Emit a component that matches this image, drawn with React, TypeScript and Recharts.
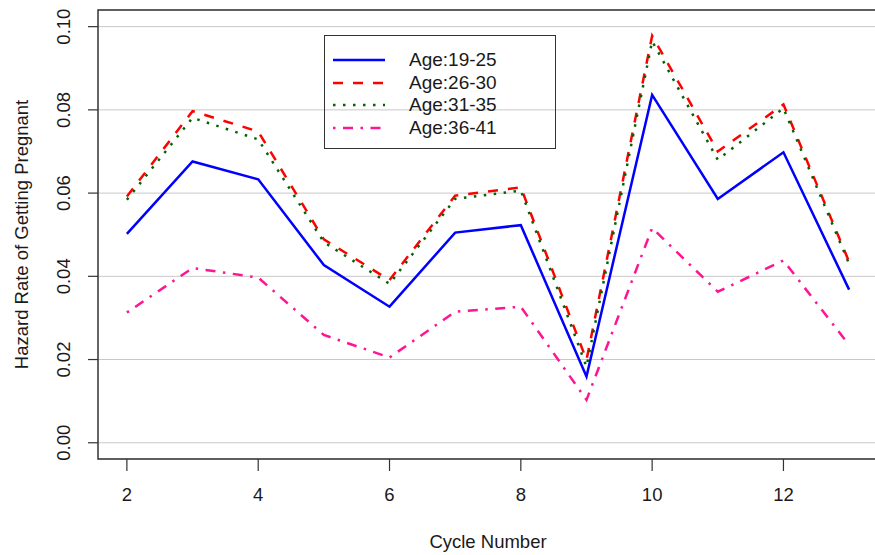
import { CartesianGrid, Label, Legend, Line, LineChart, ReferenceArea, XAxis, YAxis } from "recharts";

const cycles = [2, 3, 4, 5, 6, 7, 8, 9, 10, 11, 12, 13];
const age19to25 = [0.0502, 0.0676, 0.0633, 0.0427, 0.0327, 0.0505, 0.0523, 0.0159, 0.0836, 0.0586, 0.0698, 0.0368];
const age26to30 = [0.0592, 0.0797, 0.0748, 0.0489, 0.0391, 0.0594, 0.0614, 0.0199, 0.0978, 0.07, 0.0813, 0.0435];
const age31to35 = [0.0584, 0.0781, 0.0729, 0.0482, 0.0382, 0.0586, 0.0606, 0.0183, 0.0965, 0.068, 0.0804, 0.043];
const age36to41 = [0.0313, 0.042, 0.0397, 0.0259, 0.0205, 0.0315, 0.0327, 0.0103, 0.0516, 0.0363, 0.0438, 0.0235];

const xTicks = [2, 4, 6, 8, 10, 12];
const yTicks = [0, 0.02, 0.04, 0.06, 0.08, 0.1];

// R-style padded ranges
const X_MIN = 1.56;
const X_MAX = 13.44;
const Y_MIN = -0.0039;
const Y_MAX = 0.104;

const FONT = '"Liberation Sans", Arial, sans-serif';
const INK = "#1a1a1a";

const series = [
  { key: "a", name: "Age:19-25", color: "#0000ff", dash: undefined as string | undefined },
  { key: "b", name: "Age:26-30", color: "#ff0000", dash: "10 10" },
  { key: "c", name: "Age:31-35", color: "#006400", dash: "2.5 7.5" },
  { key: "d", name: "Age:36-41", color: "#ff1493", dash: "2.5 7.5 10 7.5" },
];

const data = cycles.map((c, i) => ({
  cycle: c,
  a: age19to25[i],
  b: age26to30[i],
  c: age31to35[i],
  d: age36to41[i],
}));

function XTick({ x, y, payload }: any) {
  return (
    <text x={x} y={y} dy={30} textAnchor="middle" fontSize={18.5} fontFamily={FONT} fill={INK}>
      {payload.value}
    </text>
  );
}

function YTick({ x, y, payload }: any) {
  const cx = x - 24;
  return (
    <text
      x={cx}
      y={y}
      textAnchor="middle"
      dominantBaseline="central"
      transform={`rotate(-90, ${cx}, ${y})`}
      fontSize={18.5}
      fontFamily={FONT}
      fill={INK}
    >
      {Number(payload.value).toFixed(2)}
    </text>
  );
}

function YTitle({ viewBox }: any) {
  const cx = viewBox.x + 21;
  const cy = viewBox.y + viewBox.height / 2;
  return (
    <text
      x={cx}
      y={cy}
      textAnchor="middle"
      dominantBaseline="central"
      transform={`rotate(-90, ${cx}, ${cy})`}
      fontSize={18.5}
      fontFamily={FONT}
      fill={INK}
    >
      Hazard Rate of Getting Pregnant
    </text>
  );
}

function LegendBox() {
  return (
    <div
      style={{
        position: "relative",
        width: 230,
        height: 112,
        border: "1.5px solid #333",
        fontFamily: FONT,
        fontSize: 19,
        color: INK,
      }}
    >
      {series.map((s, i) => (
        <div
          key={s.key}
          style={{ position: "absolute", left: 0, top: 24 + i * 22.6 - 11, height: 22, width: 230 }}
        >
          <svg width={54} height={22} style={{ position: "absolute", left: 8, top: 0 }}>
            <line x1={0} y1={11} x2={52} y2={11} stroke={s.color} strokeWidth={2.5} strokeDasharray={s.dash} />
          </svg>
          <span style={{ position: "absolute", left: 84, top: 0, lineHeight: "22px", whiteSpace: "nowrap" }}>
            {s.name}
          </span>
        </div>
      ))}
    </div>
  );
}

export default function App() {
  return (
    <div style={{ position: "absolute", left: 0, top: 0, width: 875, height: 555, overflow: "hidden", background: "#fff" }}>
      <LineChart width={880} height={555} data={data} margin={{ top: 10, right: 2, left: 0, bottom: 0 }}>
        <CartesianGrid horizontal vertical={false} stroke="#c8c8c8" strokeWidth={1} />
        <XAxis
          dataKey="cycle"
          type="number"
          domain={[X_MIN, X_MAX]}
          ticks={xTicks}
          allowDataOverflow
          height={96}
          axisLine={false}
          tickLine={{ stroke: "#333", strokeWidth: 1.2 }}
          tickSize={12}
          tickMargin={0}
          tick={<XTick />}
        >
          <Label value="Cycle Number" position="insideBottom" offset={7} fontSize={18.5} fontFamily={FONT} fill={INK} />
        </XAxis>
        <YAxis
          type="number"
          domain={[Y_MIN, Y_MAX]}
          ticks={yTicks}
          allowDataOverflow
          width={98}
          axisLine={false}
          tickLine={{ stroke: "#333", strokeWidth: 1.2 }}
          tickSize={10}
          tickMargin={0}
          tick={<YTick />}
        >
          <Label content={<YTitle />} />
        </YAxis>
        <ReferenceArea x1={X_MIN} x2={X_MAX} y1={Y_MIN} y2={Y_MAX} fill="none" stroke="#333" strokeWidth={1.5} />
        {series.map((s) => (
          <Line
            key={s.key}
            type="linear"
            dataKey={s.key}
            name={s.name}
            stroke={s.color}
            strokeWidth={2.5}
            strokeDasharray={s.dash}
            dot={false}
            activeDot={false}
            isAnimationActive={false}
          />
        ))}
        <Legend
          layout="horizontal"
          verticalAlign="middle"
          align="center"
          content={<LegendBox />}
          wrapperStyle={{ position: "absolute", left: 324, top: 35, width: 233, height: 115 }}
        />
      </LineChart>
    </div>
  );
}
